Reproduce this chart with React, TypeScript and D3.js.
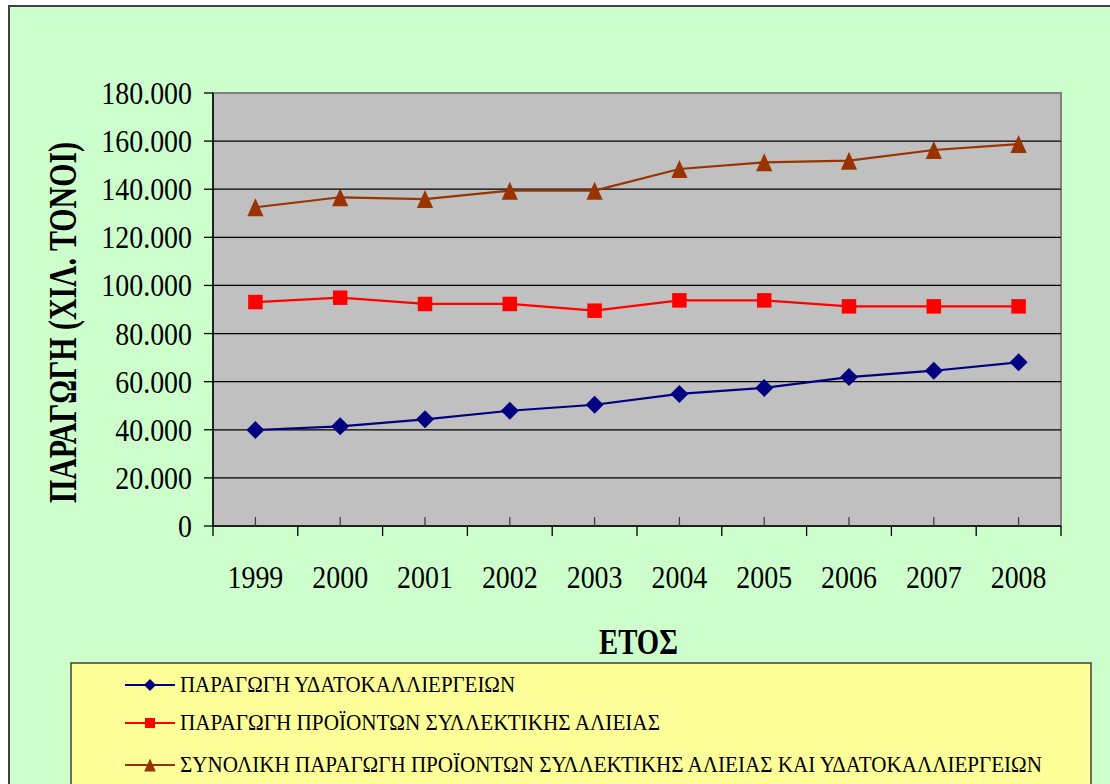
import React from "react";
import * as d3 from "d3";

const years = ["1999", "2000", "2001", "2002", "2003", "2004", "2005", "2006", "2007", "2008"];
const aquaculture = [39900, 41450, 44350, 47900, 50400, 54900, 57400, 61900, 64550, 68050];
const fishing = [93100, 94900, 92300, 92300, 89500, 93800, 93800, 91300, 91300, 91300];
const total = [132500, 136650, 135900, 139400, 139400, 148400, 151200, 151850, 156300, 158800];
const yTicks = [0, 20000, 40000, 60000, 80000, 100000, 120000, 140000, 160000, 180000];
const seriesNames = [
  "ΠΑΡΑΓΩΓΗ ΥΔΑΤΟΚΑΛΛΙΕΡΓΕΙΩΝ",
  "ΠΑΡΑΓΩΓΗ ΠΡΟΪΟΝΤΩΝ ΣΥΛΛΕΚΤΙΚΗΣ ΑΛΙΕΙΑΣ",
  "ΣΥΝΟΛΙΚΗ ΠΑΡΑΓΩΓΗ ΠΡΟΪΟΝΤΩΝ ΣΥΛΛΕΚΤΙΚΗΣ ΑΛΙΕΙΑΣ ΚΑΙ ΥΔΑΤΟΚΑΛΛΙΕΡΓΕΙΩΝ",
];
const yTitle = "ΠΑΡΑΓΩΓΗ (ΧΙΛ. ΤΟΝΟΙ)";
const xTitle = "ΕΤΟΣ";

const FONT = "'Liberation Serif', 'DejaVu Serif', serif";

const fmt = (v: number) => (v === 0 ? "0" : d3.format(",")(v).replace(/,/g, "."));

const diamondType = {
  draw(ctx: any, size: number) {
    const r = Math.sqrt(size) / 2;
    ctx.moveTo(0, -r);
    ctx.lineTo(r, 0);
    ctx.lineTo(0, r);
    ctx.lineTo(-r, 0);
    ctx.closePath();
  },
};
const squareType = {
  draw(ctx: any, size: number) {
    const r = Math.sqrt(size) / 2;
    ctx.rect(-r, -r, 2 * r, 2 * r);
  },
};
const triangleType = {
  draw(ctx: any, size: number) {
    const h = Math.sqrt(size) / 2;
    const w = h * 0.9;
    ctx.moveTo(0, -h);
    ctx.lineTo(w, h);
    ctx.lineTo(-w, h);
    ctx.closePath();
  },
};

export default function App() {
  const left = 213, right = 1061, top = 93, bottom = 526;
  const x = d3.scaleBand<string>().domain(years).range([left, right]).padding(0);
  const y = d3.scaleLinear().domain([0, 180000]).range([bottom, top]);
  const cx = (yr: string) => (x(yr) as number) + x.bandwidth() / 2;

  const series = [
    { values: aquaculture, color: "#000080", type: diamondType, size: 18 * 18, lsize: 12 * 12 },
    { values: fishing, color: "#FF0000", type: squareType, size: 14.5 * 14.5, lsize: 10 * 10 },
    { values: total, color: "#993300", type: triangleType, size: 18 * 18, lsize: 13 * 13 },
  ];

  const line = d3
    .line<number>()
    .x((_, i) => cx(years[i]))
    .y((v) => y(v));

  const boundaries = years.map((yr) => x(yr) as number).concat([right]);
  const legendRows = [685, 723, 765];
  const legendLens = [335, 480, 862];

  return (
    <div style={{ position: "fixed", left: 0, top: 0 }}>
      <svg width={1110} height={784} style={{ display: "block" }} fontFamily={FONT}>
        <rect x={9} y={6} width={1120} height={800} fill="#CCFFCC" stroke="#404040" strokeWidth={2} />
        {/* plot area */}
        <rect x={left} y={top} width={right - left} height={bottom - top} fill="#C0C0C0" stroke="#808080" strokeWidth={2} />
        {yTicks.slice(1, -1).map((t) => (
          <line key={t} x1={left} x2={right} y1={y(t)} y2={y(t)} stroke="#000" strokeWidth={1.3} />
        ))}
        {/* y axis */}
        <line x1={left} x2={left} y1={top} y2={bottom} stroke="#000" strokeWidth={1.5} />
        {yTicks.map((t) => (
          <g key={t}>
            <line x1={left - 9} x2={left} y1={y(t)} y2={y(t)} stroke="#000" strokeWidth={1.3} />
            <text
              transform={`translate(${192},${y(t) + 11}) scale(0.9,1)`}
              textAnchor="end"
              fontSize={31}
              fill="#000"
            >
              {fmt(t)}
            </text>
          </g>
        ))}
        {/* x axis */}
        <line x1={left} x2={right} y1={bottom} y2={bottom} stroke="#000" strokeWidth={1.5} />
        {boundaries.map((b, i) => (
          <line key={"b" + i} x1={b} x2={b} y1={bottom} y2={bottom + 10} stroke="#000" strokeWidth={1.3} />
        ))}
        {years.map((yr) => (
          <g key={yr}>
            <line x1={cx(yr)} x2={cx(yr)} y1={bottom - 9} y2={bottom} stroke="#404040" strokeWidth={1.3} />
            <text
              transform={`translate(${cx(yr)},${588}) scale(0.9,1)`}
              textAnchor="middle"
              fontSize={31}
              fill="#000"
            >
              {yr}
            </text>
          </g>
        ))}
        {/* series */}
        {series.map((s, si) => (
          <g key={si}>
            <path d={line(s.values) as string} fill="none" stroke={s.color} strokeWidth={2.2} />
            {s.values.map((v, i) => (
              <path
                key={i}
                transform={`translate(${cx(years[i])},${y(v)})`}
                d={d3.symbol(s.type as any, s.size)() as string}
                fill={s.color}
              />
            ))}
          </g>
        ))}
        {/* axis titles */}
        <text
          transform={`translate(76,322.5) rotate(-90)`}
          textAnchor="middle"
          fontSize={40}
          fontWeight="bold"
          textLength={361}
          lengthAdjust="spacingAndGlyphs"
          fill="#000"
        >
          {yTitle}
        </text>
        <text
          x={638.5}
          y={654}
          textAnchor="middle"
          fontSize={36}
          fontWeight="bold"
          textLength={79}
          lengthAdjust="spacingAndGlyphs"
          fill="#000"
        >
          {xTitle}
        </text>
        {/* legend */}
        <rect x={71} y={663} width={1020} height={140} fill="#FFFF99" stroke="#404040" strokeWidth={1.5} />
        {series.map((s, i) => (
          <g key={"l" + i}>
            <line x1={125} x2={175} y1={legendRows[i]} y2={legendRows[i]} stroke={s.color} strokeWidth={2.2} />
            <path
              transform={`translate(150,${legendRows[i]})`}
              d={d3.symbol(s.type as any, s.lsize)() as string}
              fill={s.color}
            />
            <text
              x={180}
              y={legendRows[i] + 7}
              fontSize={23}
              textLength={legendLens[i]}
              lengthAdjust="spacingAndGlyphs"
              fill="#000"
            >
              {seriesNames[i]}
            </text>
          </g>
        ))}
      </svg>
    </div>
  );
}
